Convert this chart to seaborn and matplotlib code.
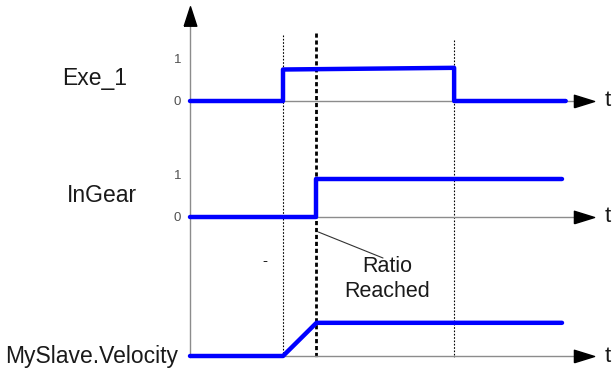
"""Timing diagram: Exe_1 / InGear / MySlave.Velocity."""

import matplotlib
matplotlib.use("Agg")
import matplotlib.pyplot as plt
import pandas as pd
import seaborn as sns

# signal data (time in arbitrary units, level normalised so tick "1" == 1)
exe_time = [0.0, 2.5, 2.5, 7.1, 7.1, 10.1]
exe_level = [0.0, 0.0, 0.75, 0.79, 0.0, 0.0]
ingear_time = [0.0, 3.4, 3.4, 10.0]
ingear_level = [0.0, 0.0, 0.9, 0.9]
vel_time = [0.0, 2.5, 3.4, 10.0]
vel_level = [0.0, 0.0, 0.79, 0.79]

row_labels = ["Exe_1", "InGear", "MySlave.Velocity"]
level_ticks = ["0", "1"]
execute_on, ratio_reached, execute_off = 2.5, 3.4, 7.1

# layout (pixels)
W, H = 613, 372
X0 = 190            # pixel of t = 0
PX_PER_T = 37.2
PX_PER_LEVEL = 42
baselines = [101, 217, 356]
AXIS_END = 574      # end of grey axis shaft
ARROW_MID = 584     # centre of arrow head

BLUE = "#0000ff"
GREY = "#8c8c8c"
TXT = "#1a1a1a"


def tx(px):
    return (px - X0) / PX_PER_T


sns.set_theme(style="white")
plt.rcParams["font.family"] = ["Liberation Sans", "DejaVu Sans"]

fig = plt.figure(figsize=(W / 100, H / 100), dpi=100)
fig.patch.set_facecolor("white")
xlim = (tx(0), tx(W))

# overlay in time / pixel coordinates for the vertical axis and markers
over = fig.add_axes([0, 0, 1, 1])
over.set_xlim(xlim)
over.set_ylim(H, 0)
over.axis("off")

head_right = [(-1, -0.62), (1, 0), (-1, 0.62), (-1, -0.62)]
head_up = [(-0.65, -1), (0, 1), (0.65, -1), (-0.65, -1)]

over.plot([0, 0], [357, 22], color=GREY, lw=1)
over.plot([0], [16], marker=head_up, markersize=14, color="black", lw=0)

over.vlines([execute_on], 35, 357, colors="black", lw=0.8, linestyles=(0, (1.5, 1.5)))
over.vlines([execute_off], 40, 357, colors="black", lw=0.8, linestyles=(0, (1.5, 1.5)))
over.vlines([ratio_reached], 33, 359, colors="black", lw=2.0, linestyles=(0, (1.5, 1.0)))

over.plot([ratio_reached + 0.05, tx(383)], [232, 258], color="#333333", lw=0.8)
over.text(tx(387), 279, "Ratio\nReached", ha="center", va="center",
          fontsize=15.5, color=TXT, linespacing=1.2)
over.text(tx(265), 261, "-", ha="center", va="center", fontsize=11, color=TXT)

signals = [
    pd.DataFrame({"t": exe_time, "level": exe_level}),
    pd.DataFrame({"t": ingear_time, "level": ingear_level}),
    pd.DataFrame({"t": vel_time, "level": vel_level}),
]
label_pos = [(95, 78, "center"), (102, 195, "center"), (5, 356, "left")]

for i, (df, base) in enumerate(zip(signals, baselines)):
    ax = fig.add_axes([0, 0, 1, 1])
    ax.patch.set_alpha(0)
    ax.set_xlim(xlim)
    ax.set_ylim(-(H - base) / PX_PER_LEVEL, base / PX_PER_LEVEL)
    ax.axis("off")

    # time axis with arrow head
    ax.plot([0, tx(AXIS_END)], [0, 0], color=GREY, lw=1, zorder=1)
    ax.plot([tx(ARROW_MID)], [0], marker=head_right, markersize=14.5,
            color="black", lw=0, zorder=2)
    ax.text(tx(608), 0, "t", ha="center", va="center", fontsize=16, color=TXT)

    sns.lineplot(data=df, x="t", y="level", ax=ax, estimator=None, sort=False,
                 color=BLUE, lw=3.2, zorder=3, solid_capstyle="round")

    if i < 2:
        for k, lab in enumerate(level_ticks):
            ax.text(tx(181), k - 0.02, lab, ha="right", va="center",
                    fontsize=9.5, color="#505050")

    lx, ly, ha = label_pos[i]
    ax.text(tx(lx), (base - ly) / PX_PER_LEVEL, row_labels[i], ha=ha, va="center",
            fontsize=16.5, color=TXT)

fig.savefig("out.png", dpi=100, facecolor="white")
